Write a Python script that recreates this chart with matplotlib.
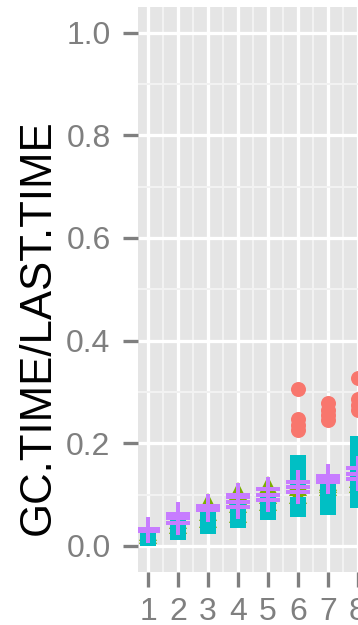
import matplotlib
matplotlib.use("Agg")
import matplotlib.pyplot as plt
from matplotlib.ticker import MultipleLocator

plt.rcParams['font.family'] = ['Liberation Sans', 'DejaVu Sans']

# ---- data ----
x_levels = [1, 2, 3, 4, 5, 6, 7, 8]
red_vals = [[], [], [], [], [],
            [0.306, 0.247, 0.236, 0.225],
            [0.278, 0.265, 0.255, 0.245],
            [0.327, 0.287, 0.275, 0.265]]
green_vals = [[0.022, 0.027],
              [0.040, 0.050],
              [0.052, 0.066, 0.086],
              [0.062, 0.082, 0.098, 0.107],
              [0.085, 0.100, 0.119],
              [0.100, 0.115, 0.125],
              [0.115, 0.120, 0.125],
              [0.120, 0.130]]
cyan_vals = [[0.015, 0.018, 0.020],
             [0.027, 0.032, 0.037],
             [0.039, 0.045, 0.051],
             [0.050, 0.060, 0.070],
             [0.065, 0.075, 0.085],
             [0.162, 0.150, 0.130, 0.080, 0.072],
             [0.075, 0.090, 0.105, 0.115],
             [0.198, 0.170, 0.155, 0.130, 0.110, 0.090]]
purple_vals = [[0.029, 0.032],
               [0.045, 0.055, 0.062],
               [0.070, 0.075, 0.078],
               [0.075, 0.085, 0.095, 0.100],
               [0.090, 0.100, 0.110],
               [0.105, 0.115, 0.125],
               [0.125, 0.130, 0.136],
               [0.152, 0.140, 0.130]]
y_ticks = [0.0, 0.2, 0.4, 0.6, 0.8, 1.0]
y_tick_labels = ["0.0", "0.2", "0.4", "0.6", "0.8", "1.0"]
y_label = "GC.TIME/LAST.TIME"

# ---- figure ----
W, H = 358, 625
fig = plt.figure(figsize=(W / 100, H / 100), dpi=100)
px = 1.0 / 100 * 72  # pt per px
left_px, top_px, bot_px = 137.5, 7.0, 571.5
xmin, xmax = 0.65, 8.35
width_px = (xmax - xmin) * 30.0
ax = fig.add_axes([left_px / W, 1 - bot_px / H, width_px / W, (bot_px - top_px) / H])
ax.set_facecolor("#E5E5E5")
for s in ax.spines.values():
    s.set_visible(False)

ax.set_xlim(xmin, xmax)
ax.set_ylim(-0.05, 1.05)
ax.set_xticks(x_levels)
ax.set_xticklabels([str(v) for v in x_levels])
ax.set_yticks(y_ticks)
ax.set_yticklabels(y_tick_labels)
ax.xaxis.set_minor_locator(MultipleLocator(0.5))
ax.yaxis.set_minor_locator(MultipleLocator(0.1))
ax.set_axisbelow(True)
ax.grid(which="major", color="white", linewidth=3.3 * px)
ax.grid(which="minor", color="#F2F2F2", linewidth=2.0 * px)
ax.tick_params(which="minor", length=0)
ax.tick_params(which="major", length=15 * px, width=3.3 * px, color="#7F7F7F",
               labelcolor="#7F7F7F", labelsize=23)
ax.tick_params(axis="x", pad=10 * px)
ax.tick_params(axis="y", pad=12 * px)

def draw(vals, marker, color, ms, mew=0):
    xs, ys = [], []
    for xv, lst in zip(x_levels, vals):
        for v in lst:
            xs.append(xv)
            ys.append(v)
    ax.plot(xs, ys, linestyle="none", marker=marker, color=color,
            markersize=ms, markeredgewidth=mew)

draw(red_vals, "o", "#F8766D", 15 * px)
draw(green_vals, "^", "#7CAE00", 18 * px)
draw(cyan_vals, "s", "#00BFC4", 15.5 * px)
draw(purple_vals, "+", "#C77CFF", 24 * px, 4.0 * px)

fig.text(38 / W, 1 - 327 / H, y_label, rotation=90, ha="center", va="center",
         fontsize=31.5, color="black")

fig.savefig("out.png", dpi=100)
